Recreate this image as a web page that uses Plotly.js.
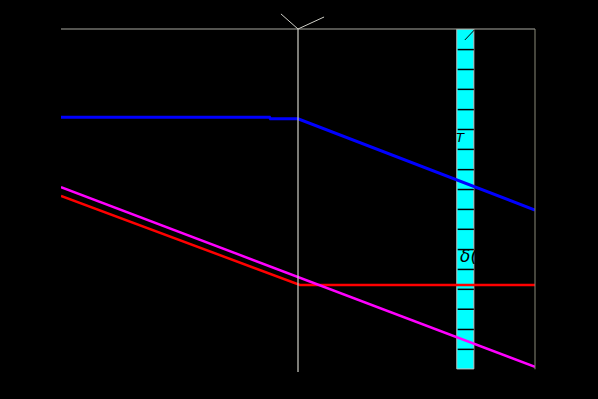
<!DOCTYPE html>
<html>
<head>
<meta charset="utf-8">
<script src="https://cdn.plot.ly/plotly-3.0.1.min.js"></script>
<style>html,body{margin:0;padding:0;background:#000;}#chart{width:598px;height:399px;}</style>
</head>
<body>
<div id="chart"></div>
<script>
// Data (x in normalized units 0..10, y in units 0..100)
const blueX = [0, 4.40, 4.42, 5.0, 10];
const blueY = [74.3, 74.3, 73.8, 73.8, 47.2];
const redX = [0, 5.04, 10];
const redY = [51.3, 25.4, 25.4];
const magentaX = [0, 10];
const magentaY = [53.9, 1.5];
const markerX = 5.0;             // vertical marker
const bandX = [8.35, 8.71];      // cyan band
const bandTicksY = [94.0, 88.2, 82.4, 76.5, 70.7, 64.9, 59.0, 53.2, 47.4, 41.6, 35.7, 29.9, 24.1, 18.3, 12.4, 6.6];
const bandLabels = ["T", "δ("];
const bandLabelX = [8.29, 8.38];
const bandLabelY = [68.5, 33.8];
const bandLabelSize = [13, 17];

const traces = [
  {x: blueX, y: blueY, mode: 'lines', line: {color: '#0000ff', width: 3}, hoverinfo: 'skip'},
  {x: redX, y: redY, mode: 'lines', line: {color: '#ff0000', width: 2.5}, hoverinfo: 'skip'},
  {x: magentaX, y: magentaY, mode: 'lines', line: {color: '#ff00ff', width: 2.5}, hoverinfo: 'skip'}
];

const shapes = [
  // cyan band
  {type: 'rect', xref: 'x', yref: 'y', x0: bandX[0], x1: bandX[1], y0: 0.9, y1: 100,
   fillcolor: '#00ffff', line: {color: '#c0c0c0', width: 1}, layer: 'below'},
  // diagonal at band top
  {type: 'line', xref: 'x', yref: 'y', x0: 8.52, x1: 8.72, y0: 96.8, y1: 99.7, line: {color: '#000', width: 1}},
  // top border
  {type: 'line', xref: 'paper', yref: 'paper', x0: 0, x1: 1, y0: 1, y1: 1, line: {color: '#a8a8a0', width: 1}},
  // right border
  {type: 'line', xref: 'paper', yref: 'paper', x0: 1, x1: 1, y0: 1, y1: 0.008, line: {color: '#8a8a78', width: 1}},
  // vertical marker
  {type: 'line', xref: 'x', yref: 'paper', x0: markerX, x1: markerX, y0: 0, y1: 1, line: {color: '#d0d0c8', width: 1.2}},
  // V at the top of the marker
  {type: 'line', xref: 'x', yref: 'paper', x0: markerX - 0.36, x1: markerX, y0: 1.044, y1: 1, line: {color: '#d0d0c8', width: 1}},
  {type: 'line', xref: 'x', yref: 'paper', x0: markerX, x1: markerX + 0.55, y0: 1, y1: 1.035, line: {color: '#d0d0c8', width: 1}}
];
bandTicksY.forEach(v => shapes.push({type: 'line', xref: 'x', yref: 'y', x0: bandX[0] + 0.02, x1: bandX[1], y0: v, y1: v,
  line: {color: '#000', width: 1.5}}));

const annotations = bandLabels.map((t, i) => ({
  x: bandLabelX[i], y: bandLabelY[i], xref: 'x', yref: 'y', text: '<i>' + t + '</i>', showarrow: false,
  xanchor: 'left', font: {family: 'DejaVu Sans', size: bandLabelSize[i], color: '#000'}
}));

const layout = {
  width: 598, height: 399,
  margin: {l: 61, r: 63, t: 29, b: 27},
  paper_bgcolor: '#000', plot_bgcolor: '#000',
  showlegend: false,
  xaxis: {range: [0, 10], showgrid: false, zeroline: false, showline: false, ticks: '',
          showticklabels: false, fixedrange: true},
  yaxis: {range: [0, 100], showgrid: false, zeroline: false, showline: false, ticks: '',
          showticklabels: false, fixedrange: true},
  shapes: shapes,
  annotations: annotations
};

Plotly.newPlot('chart', traces, layout, {displayModeBar: false, staticPlot: true});
</script>
</body>
</html>
